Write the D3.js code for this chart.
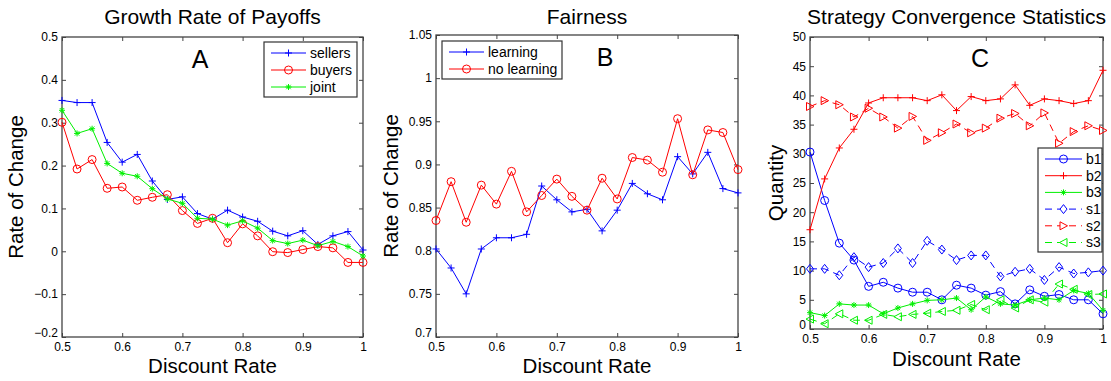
<!DOCTYPE html>
<html>
<head>
<meta charset="utf-8">
<script src="https://cdn.jsdelivr.net/npm/d3@7"></script>
<style>
  body { margin: 0; background: #fff; }
  svg { display: block; font-family: "Liberation Sans", Arial, Helvetica, sans-serif; }
  .tick-label { font-size: 12px; fill: #000; }
  .title { font-size: 21px; }
  .axis-label { font-size: 20.5px; }
  .legend-text { font-size: 14px; }
  .panel-letter { font-size: 25px; }
</style>
</head>
<body>
<svg id="chart" width="1111" height="381"></svg>
<script>
// discount rate, shared x values of every series
const discountRate = [0.5, 0.525, 0.55, 0.575, 0.6, 0.625, 0.65, 0.675, 0.7, 0.725, 0.75,
  0.775, 0.8, 0.825, 0.85, 0.875, 0.9, 0.925, 0.95, 0.975, 1.0];

// panel A - growth rate of payoffs
const sellers = [0.352, 0.347, 0.347, 0.254, 0.208, 0.226, 0.164, 0.121, 0.127, 0.088, 0.075,
  0.096, 0.080, 0.070, 0.047, 0.036, 0.048, 0.016, 0.036, 0.046, 0.003];
const buyers = [0.301, 0.192, 0.214, 0.147, 0.150, 0.119, 0.126, 0.132, 0.095, 0.065, 0.077,
  0.020, 0.064, 0.036, -0.001, -0.003, 0.004, 0.011, 0.008, -0.026, -0.026];
const joint = [0.329, 0.275, 0.286, 0.205, 0.182, 0.175, 0.146, 0.122, 0.112, 0.077, 0.075,
  0.061, 0.071, 0.054, 0.025, 0.018, 0.026, 0.013, 0.023, 0.011, -0.011];

// panel B - fairness
const learning = [0.802, 0.780, 0.750, 0.802, 0.815, 0.815, 0.819, 0.875, 0.859, 0.845, 0.848,
  0.823, 0.847, 0.878, 0.866, 0.859, 0.909, 0.889, 0.914, 0.872, 0.867];
const noLearning = [0.835, 0.880, 0.833, 0.876, 0.854, 0.892, 0.845, 0.864, 0.883, 0.863, 0.847,
  0.884, 0.860, 0.908, 0.905, 0.891, 0.953, 0.888, 0.940, 0.937, 0.894];

// panel C - strategy convergence statistics
const b1 = [30.3, 22.0, 14.7, 11.8, 7.3, 8.0, 7.0, 6.3, 6.3, 5.0, 7.5,
  7.0, 5.8, 6.4, 4.3, 6.7, 5.6, 5.9, 5.0, 5.0, 2.6];
const b2 = [17.0, 25.7, 31.0, 34.2, 38.7, 39.6, 39.6, 39.6, 39.1, 40.1, 37.4,
  39.8, 39.1, 39.4, 41.8, 38.3, 39.4, 39.1, 38.6, 39.1, 44.3];
const b3 = [2.8, 2.3, 4.3, 4.1, 4.1, 2.6, 3.6, 4.3, 4.9, 5.0, 5.3,
  3.3, 5.5, 4.3, 4.1, 5.0, 5.3, 5.0, 6.6, 6.1, 3.2];
const s1 = [10.3, 10.3, 9.2, 12.3, 10.6, 11.3, 13.8, 11.3, 15.1, 13.6, 11.8,
  12.6, 12.6, 9.0, 9.8, 10.3, 8.4, 10.6, 9.5, 9.7, 10.0];
const s2 = [38.1, 39.1, 38.4, 36.3, 37.8, 36.3, 34.4, 36.4, 32.3, 33.6, 35.1,
  33.6, 34.4, 36.1, 36.9, 34.8, 37.0, 31.8, 33.8, 34.8, 34.0];
const s3 = [1.7, 0.9, 2.6, 1.5, 1.5, 2.5, 2.1, 2.5, 2.7, 3.0, 3.2,
  4.2, 3.3, 5.0, 3.6, 5.0, 4.6, 7.7, 6.8, 5.9, 6.0];

// tick values
const xTicks = [0.5, 0.6, 0.7, 0.8, 0.9, 1.0];
const yTicksA = [-0.2, -0.1, 0, 0.1, 0.2, 0.3, 0.4, 0.5];
const yTicksB = [0.7, 0.75, 0.8, 0.85, 0.9, 0.95, 1.0, 1.05];
const yTicksC = [0, 5, 10, 15, 20, 25, 30, 35, 40, 45, 50];

const BLUE = '#0000ff', RED = '#ff0000', GREEN = '#00f000';
const svg = d3.select('#chart');

// matlab-style marker outlines
function markerPath(type) {
  switch (type) {
    case 'plus': return 'M-3.5,0H3.5M0,-3.5V3.5';
    case 'star': return 'M-3,0H3M0,-3V3M-2.2,-2.2L2.2,2.2M-2.2,2.2L2.2,-2.2';
    case 'circle': return 'M-4,0A4,4 0 1,0 4,0A4,4 0 1,0 -4,0Z';
    case 'diamond': return 'M0,-4.5L3.5,0L0,4.5L-3.5,0Z';
    case 'triRight': return 'M-3.5,-4L4,0L-3.5,4Z';
    case 'triLeft': return 'M3.5,-4L-4,0L3.5,4Z';
  }
}

function fmt(v) {
  const s = String(+v.toFixed(2));
  return s.replace('-', '\u2212');
}

function drawPanel(cfg) {
  const { left, right, top, bottom } = cfg.box;
  const g = svg.append('g');

  const x = d3.scaleLinear().domain([0.5, 1]).range([left, right]);
  const y = d3.scaleLinear().domain(cfg.yDomain).range([bottom, top]);

  // inward ticks on all four sides
  const tickLen = 4;
  const axisColor = '#444';
  const bottomAxis = g.append('g').attr('transform', `translate(0,${bottom})`)
    .call(d3.axisBottom(x).tickValues(xTicks).tickSizeInner(-tickLen).tickSizeOuter(0)
      .tickPadding(5).tickFormat(fmt));
  const topAxis = g.append('g').attr('transform', `translate(0,${top})`)
    .call(d3.axisTop(x).tickValues(xTicks).tickSizeInner(-tickLen).tickSizeOuter(0).tickFormat(''));
  const leftAxis = g.append('g').attr('transform', `translate(${left},0)`)
    .call(d3.axisLeft(y).tickValues(cfg.yTicks).tickSizeInner(-tickLen).tickSizeOuter(0)
      .tickPadding(4).tickFormat(fmt));
  const rightAxis = g.append('g').attr('transform', `translate(${right},0)`)
    .call(d3.axisRight(y).tickValues(cfg.yTicks).tickSizeInner(-tickLen).tickSizeOuter(0).tickFormat(''));

  [bottomAxis, topAxis, leftAxis, rightAxis].forEach(a => {
    a.select('.domain').remove();
    a.selectAll('line').attr('stroke', axisColor);
    a.selectAll('text').attr('class', 'tick-label').attr('font-size', null).attr('font-family', null);
  });
  // lowest y label sits a little higher, clear of the x labels
  leftAxis.selectAll('.tick').filter((d, i) => i === 0).select('text').attr('y', -4);

  g.append('rect')
    .attr('x', left).attr('y', top)
    .attr('width', right - left).attr('height', bottom - top)
    .attr('fill', 'none').attr('stroke', axisColor).attr('stroke-width', 1.3);

  // series
  const line = d3.line().x((d, i) => x(discountRate[i])).y(d => y(d));
  cfg.series.forEach(s => {
    g.append('path')
      .datum(s.values)
      .attr('d', line)
      .attr('fill', 'none')
      .attr('stroke', s.color)
      .attr('stroke-width', 1)
      .attr('stroke-dasharray', s.dashed ? '7,5' : null);
    g.selectAll(null)
      .data(s.values)
      .enter()
      .append('path')
      .attr('transform', (d, i) => `translate(${x(discountRate[i])},${y(d)})`)
      .attr('d', markerPath(s.marker))
      .attr('fill', 'none')
      .attr('stroke', s.color)
      .attr('stroke-width', 1);
  });

  // titles and labels
  const cx = (left + right) / 2;
  g.append('text').attr('class', 'title')
    .attr('x', cx).attr('y', 24).attr('text-anchor', 'middle').text(cfg.title);
  g.append('text').attr('class', 'axis-label')
    .attr('x', cx).attr('y', cfg.xLabelY).attr('text-anchor', 'middle').text('Discount Rate');
  g.append('text').attr('class', 'axis-label')
    .attr('transform', `translate(${cfg.yLabelX},${(top + bottom) / 2}) rotate(-90)`)
    .attr('text-anchor', 'middle').text(cfg.yLabel);
  g.append('text').attr('class', 'panel-letter')
    .attr('x', cfg.letterPos[0]).attr('y', cfg.letterPos[1])
    .attr('text-anchor', 'middle').text(cfg.letter);

  // legend
  const lg = cfg.legend;
  const legend = g.append('g');
  legend.append('rect')
    .attr('x', lg.x).attr('y', lg.y).attr('width', lg.w).attr('height', lg.h)
    .attr('fill', '#fff').attr('stroke', '#333').attr('stroke-width', 1.2);
  cfg.series.forEach((s, i) => {
    const ry = lg.y + lg.firstRow + i * lg.rowGap;
    const x0 = lg.x + 7, x1 = x0 + lg.lineLen;
    legend.append('line')
      .attr('x1', x0).attr('x2', x1).attr('y1', ry).attr('y2', ry)
      .attr('stroke', s.color).attr('stroke-width', 1)
      .attr('stroke-dasharray', s.dashed ? '7,5' : null);
    legend.append('path')
      .attr('transform', `translate(${(x0 + x1) / 2},${ry})`)
      .attr('d', markerPath(s.marker))
      .attr('fill', s.dashed ? '#fff' : 'none')
      .attr('stroke', s.color).attr('stroke-width', 1);
    legend.append('text').attr('class', 'legend-text')
      .attr('x', x1 + 4).attr('y', ry).attr('dy', '0.35em').text(s.name);
  });
}

drawPanel({
  box: { left: 62, right: 363, top: 37, bottom: 337 },
  yDomain: [-0.2, 0.5], yTicks: yTicksA,
  title: 'Growth Rate of Payoffs', yLabel: 'Rate of Change',
  xLabelY: 373, yLabelX: 23, letter: 'A', letterPos: [200, 68],
  legend: { x: 264, y: 42, w: 93, h: 55, firstRow: 11, rowGap: 17, lineLen: 35 },
  series: [
    { name: 'sellers', values: sellers, color: BLUE, marker: 'plus' },
    { name: 'buyers', values: buyers, color: RED, marker: 'circle' },
    { name: 'joint', values: joint, color: GREEN, marker: 'star' }
  ]
});

drawPanel({
  box: { left: 436, right: 738, top: 35, bottom: 337 },
  yDomain: [0.7, 1.05], yTicks: yTicksB,
  title: 'Fairness', yLabel: 'Rate of Change',
  xLabelY: 373, yLabelX: 398, letter: 'B', letterPos: [605, 66],
  legend: { x: 442, y: 41, w: 120, h: 38, firstRow: 11, rowGap: 17, lineLen: 35 },
  series: [
    { name: 'learning', values: learning, color: BLUE, marker: 'plus' },
    { name: 'no learning', values: noLearning, color: RED, marker: 'circle' }
  ]
});

drawPanel({
  box: { left: 810, right: 1103, top: 37, bottom: 329 },
  yDomain: [0, 50], yTicks: yTicksC,
  title: 'Strategy Convergence Statistics', yLabel: 'Quantity',
  xLabelY: 366, yLabelX: 783, letter: 'C', letterPos: [980, 67],
  legend: { x: 1038, y: 148, w: 64, h: 104, firstRow: 11, rowGap: 16.7, lineLen: 37 },
  series: [
    { name: 'b1', values: b1, color: BLUE, marker: 'circle' },
    { name: 'b2', values: b2, color: RED, marker: 'plus' },
    { name: 'b3', values: b3, color: GREEN, marker: 'star' },
    { name: 's1', values: s1, color: BLUE, marker: 'diamond', dashed: true },
    { name: 's2', values: s2, color: RED, marker: 'triRight', dashed: true },
    { name: 's3', values: s3, color: GREEN, marker: 'triLeft', dashed: true }
  ]
});
</script>
</body>
</html>
